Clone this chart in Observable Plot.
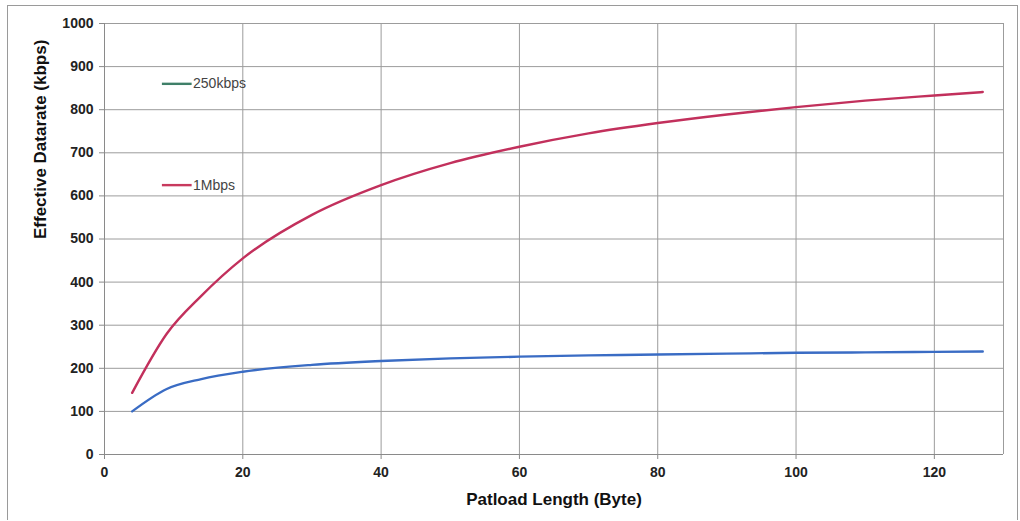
<!DOCTYPE html>
<html>
<head>
<meta charset="utf-8">
<script src="https://cdn.jsdelivr.net/npm/d3@7"></script>
<script src="https://cdn.jsdelivr.net/npm/@observablehq/plot@0.6"></script>
<style>
  html, body { margin: 0; padding: 0; background: #fff; }
  #wrap { position: relative; width: 1020px; height: 521px; }
  #border { position: absolute; left: 7px; top: 5px; width: 1009px; height: 514px; border: 1px solid #9a9a9a; border-bottom: none; pointer-events: none; }
</style>
</head>
<body>
<div id="wrap"><div id="border"></div></div>
<script>
const payloadLength = [4, 9, 14, 20, 30, 40, 50, 60, 70, 80, 90, 100, 110, 120, 127];
const rate250k = [100, 152, 175, 192, 208, 217, 223, 227, 230, 232, 234, 236, 237, 238, 239];
const rate1M   = [143, 280, 368, 455, 556, 625, 676, 714, 745, 769, 789, 806, 821, 833, 841];
const seriesNames = ["250kbps", "1Mbps"];
const lineColors = ["#3a6cc4", "#c2305c"];
const legendColors = ["#3f7f68", "#c83a5e"];
const legendY = [860, 625];
const xTicks = [0, 20, 40, 60, 80, 100, 120];
const yTicks = d3.range(0, 1001, 100);

const rows = [];
payloadLength.forEach((x, i) => {
  rows.push({series: seriesNames[0], x, y: rate250k[i]});
  rows.push({series: seriesNames[1], x, y: rate1M[i]});
});
const legend = seriesNames.map((s, i) => ({series: s, y: legendY[i], color: legendColors[i]}));

const font = "'Liberation Sans', Arial, sans-serif";
const chart = Plot.plot({
  width: 1020,
  height: 521,
  marginLeft: 104,
  marginRight: 17,
  marginTop: 23,
  marginBottom: 67,
  style: {fontFamily: font, background: "transparent", overflow: "visible"},
  x: {domain: [0, 130], ticks: xTicks, label: null},
  y: {domain: [0, 1000], ticks: yTicks, label: null},
  marks: [
    Plot.gridX(xTicks, {stroke: "#9c9c9c", strokeOpacity: 1, strokeWidth: 1}),
    Plot.gridY(yTicks, {stroke: "#9c9c9c", strokeOpacity: 1, strokeWidth: 1}),
    Plot.ruleX([130], {stroke: "#9c9c9c"}),
    Plot.ruleX([0], {stroke: "#8a8a8a"}),
    Plot.ruleY([0], {stroke: "#8a8a8a"}),
    Plot.axisX(xTicks, {tickSize: 5, tickPadding: 8, fontSize: 14, fontWeight: "bold", stroke: "#8a8a8a", fill: "#222", tickFormat: d => String(d)}),
    Plot.axisY(yTicks, {tickSize: 5, tickPadding: 6, fontSize: 14, fontWeight: "bold", stroke: "#8a8a8a", fill: "#222", tickFormat: d => String(d)}),
    Plot.line(rows, {x: "x", y: "y", z: "series", stroke: d => lineColors[seriesNames.indexOf(d.series)], strokeWidth: 2.4, curve: "monotone-x"}),
    Plot.link(legend, {x1: 8.3, x2: 12.6, y1: "y", y2: "y", stroke: "color", strokeWidth: 2.4}),
    Plot.text(legend, {x: 12.8, y: "y", text: "series", textAnchor: "start", fontSize: 14, fill: "#444"}),
    Plot.text(["Patload Length (Byte)"], {frameAnchor: "bottom", dy: 50, fontSize: 17, fontWeight: "bold", fill: "#111"}),
    Plot.text(["Effective Datarate (kbps)"], {frameAnchor: "left", dx: -64, rotate: -90, fontSize: 17, fontWeight: "bold", fill: "#111"})
  ]
});
document.getElementById("wrap").appendChild(chart);
chart.style.position = "absolute";
chart.style.left = "0";
chart.style.top = "0";
</script>
</body>
</html>
